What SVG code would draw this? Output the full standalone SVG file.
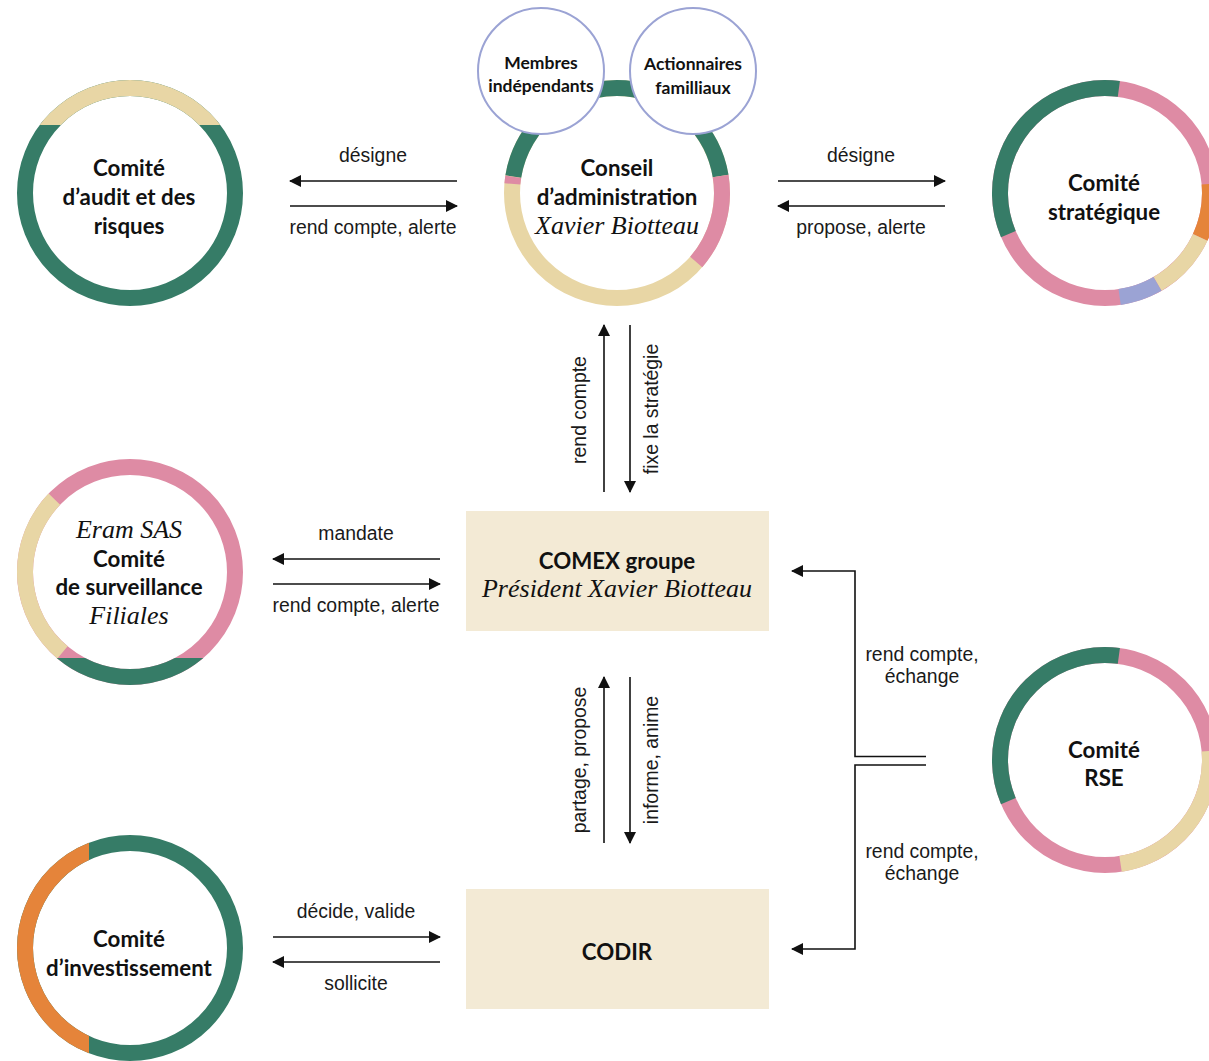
<svg xmlns="http://www.w3.org/2000/svg" width="1209" height="1061" viewBox="0 0 1209 1061">
<style>
.ring{fill:none;stroke-width:16}
.g{stroke:#367c67}.b{stroke:#e8d6a5}.p{stroke:#de8ba4}.o{stroke:#e5843a}.l{stroke:#9ba3d4}
.t{font-family:Lato,"Noto Sans",sans-serif;font-weight:700;font-size:22.3px;fill:#111;text-anchor:middle}
.ts{font-family:Lato,"Noto Sans",sans-serif;font-weight:700;font-size:17.5px;fill:#111;text-anchor:middle}
.it{font-family:"Liberation Serif",serif;font-style:italic;font-size:26px;fill:#111;text-anchor:middle}
.lb{font-family:"Liberation Sans",Arial,sans-serif;font-size:19.4px;fill:#1a1a1a;text-anchor:middle}
.ln{fill:none;stroke:#111;stroke-width:1.6}
.box{fill:#f3ead5}
.sm{fill:#fff;stroke:#9ba3d4;stroke-width:2}
</style>
<defs>
<marker id="ah" markerWidth="12" markerHeight="12" refX="11" refY="6" orient="auto" markerUnits="userSpaceOnUse">
<path d="M0,0 L12,6 L0,12 Z" fill="#111"/>
</marker>
<clipPath id="cAudit"><rect x="0" y="0" width="260" height="125"/></clipPath>
<clipPath id="cEram"><rect x="0" y="658" width="260" height="40"/></clipPath>
<clipPath id="cInv"><rect x="0" y="820" width="89" height="241"/></clipPath>
</defs>

<g id="audit">
<circle class="ring g" cx="130" cy="193" r="105"/>
<circle class="ring b" cx="130" cy="193" r="105" clip-path="url(#cAudit)"/>
<text class="t" x="129" y="176">Comité</text>
<text class="t" x="129" y="205">d’audit et des</text>
<text class="t" x="129" y="234">risques</text>
</g>

<g id="conseil">
<circle class="ring b" cx="617" cy="193" r="105"/>
<circle class="ring g" cx="617" cy="193" r="105" pathLength="360" stroke-dasharray="161.7 360" transform="rotate(189 617 193)"/>
<circle class="ring p" cx="617" cy="193" r="105" pathLength="360" stroke-dasharray="50.3 360" transform="rotate(350.7 617 193)"/>
<circle class="ring p" cx="617" cy="193" r="105" pathLength="360" stroke-dasharray="4 360" transform="rotate(185 617 193)"/>
<text class="t" x="617" y="176">Conseil</text>
<text class="t" x="617" y="205">d’administration</text>
<text class="it" x="617" y="234">Xavier Biotteau</text>
</g>

<g id="membres">
<circle class="sm" cx="541" cy="71" r="63"/>
<text class="ts" x="541" y="69">Membres</text>
<text class="ts" x="541" y="92">indépendants</text>
</g>

<g id="actionnaires">
<circle class="sm" cx="693" cy="71" r="63"/>
<text class="ts" x="693" y="70">Actionnaires</text>
<text class="ts" x="693" y="94">familliaux</text>
</g>

<g id="strategique">
<circle class="ring p" cx="1105" cy="193" r="105"/>
<circle class="ring g" cx="1105" cy="193" r="105" pathLength="360" stroke-dasharray="120.6 360" transform="rotate(157 1105 193)"/>
<circle class="ring o" cx="1105" cy="193" r="105" pathLength="360" stroke-dasharray="30 360" transform="rotate(355 1105 193)"/>
<circle class="ring b" cx="1105" cy="193" r="105" pathLength="360" stroke-dasharray="35 360" transform="rotate(25 1105 193)"/>
<circle class="ring l" cx="1105" cy="193" r="105" pathLength="360" stroke-dasharray="22 360" transform="rotate(60 1105 193)"/>
<text class="t" x="1104" y="191">Comité</text>
<text class="t" x="1104" y="220">stratégique</text>
</g>

<g id="eram">
<circle class="ring p" cx="130" cy="572" r="105"/>
<circle class="ring b" cx="130" cy="572" r="105" pathLength="360" stroke-dasharray="94 360" transform="rotate(130 130 572)"/>
<circle class="ring g" cx="130" cy="572" r="105" clip-path="url(#cEram)"/>
<text class="it" x="129" y="538">Eram SAS</text>
<text class="t" x="129" y="567">Comité</text>
<text class="t" x="129" y="595">de surveillance</text>
<text class="it" x="129" y="624">Filiales</text>
</g>

<g id="comex">
<rect class="box" x="466" y="511" width="303" height="120"/>
<text class="t" x="617" y="569">COMEX groupe</text>
<text class="it" x="617" y="597">Président Xavier Biotteau</text>
</g>

<g id="rse">
<circle class="ring p" cx="1105" cy="760" r="105"/>
<circle class="ring g" cx="1105" cy="760" r="105" pathLength="360" stroke-dasharray="120.6 360" transform="rotate(157 1105 760)"/>
<circle class="ring b" cx="1105" cy="760" r="105" pathLength="360" stroke-dasharray="86.4 360" transform="rotate(355 1105 760)"/>
<text class="t" x="1104" y="758">Comité</text>
<text class="t" x="1104" y="786">RSE</text>
</g>

<g id="investissement">
<circle class="ring g" cx="130" cy="948" r="105"/>
<circle class="ring o" cx="130" cy="948" r="105" clip-path="url(#cInv)"/>
<text class="t" x="129" y="947">Comité</text>
<text class="t" x="129" y="976">d’investissement</text>
</g>

<g id="codir">
<rect class="box" x="466" y="889" width="303" height="120"/>
<text class="t" x="617" y="960">CODIR</text>
</g>

<g id="connectors">
<line class="ln" x1="457" y1="181" x2="290" y2="181" marker-end="url(#ah)"/>
<line class="ln" x1="290" y1="206" x2="457" y2="206" marker-end="url(#ah)"/>
<text class="lb" x="373" y="162">désigne</text>
<text class="lb" x="373" y="234">rend compte, alerte</text>

<line class="ln" x1="778" y1="181" x2="945" y2="181" marker-end="url(#ah)"/>
<line class="ln" x1="945" y1="206" x2="778" y2="206" marker-end="url(#ah)"/>
<text class="lb" x="861" y="162">désigne</text>
<text class="lb" x="861" y="234">propose, alerte</text>

<line class="ln" x1="604" y1="492" x2="604" y2="325" marker-end="url(#ah)"/>
<line class="ln" x1="630" y1="325" x2="630" y2="492" marker-end="url(#ah)"/>
<text class="lb" transform="translate(586 410) rotate(-90)">rend compte</text>
<text class="lb" transform="translate(658 409) rotate(-90)">fixe la stratégie</text>

<line class="ln" x1="440" y1="559" x2="273" y2="559" marker-end="url(#ah)"/>
<line class="ln" x1="273" y1="584" x2="440" y2="584" marker-end="url(#ah)"/>
<text class="lb" x="356" y="540">mandate</text>
<text class="lb" x="356" y="612">rend compte, alerte</text>

<line class="ln" x1="604" y1="843" x2="604" y2="677" marker-end="url(#ah)"/>
<line class="ln" x1="630" y1="677" x2="630" y2="843" marker-end="url(#ah)"/>
<text class="lb" transform="translate(586 760) rotate(-90)">partage, propose</text>
<text class="lb" transform="translate(658 760) rotate(-90)">informe, anime</text>

<line class="ln" x1="273" y1="937" x2="440" y2="937" marker-end="url(#ah)"/>
<line class="ln" x1="440" y1="962" x2="273" y2="962" marker-end="url(#ah)"/>
<text class="lb" x="356" y="918">décide, valide</text>
<text class="lb" x="356" y="990">sollicite</text>

<polyline class="ln" points="926,756.5 855,756.5 855,571 792,571" marker-end="url(#ah)"/>
<polyline class="ln" points="926,765 855,765 855,949 792,949" marker-end="url(#ah)"/>
<text class="lb" x="922" y="661">rend compte,</text>
<text class="lb" x="922" y="683">échange</text>
<text class="lb" x="922" y="858">rend compte,</text>
<text class="lb" x="922" y="880">échange</text>
</g>
</svg>
